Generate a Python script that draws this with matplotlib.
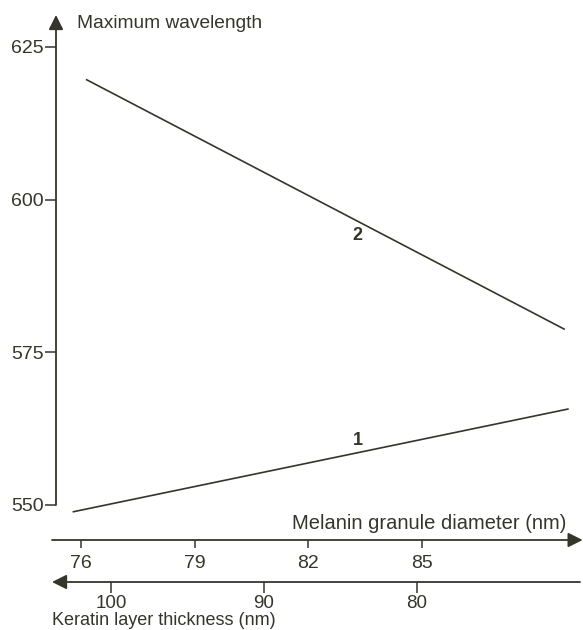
import matplotlib.pyplot as plt

plt.rcParams['font.family'] = ['Liberation Sans', 'DejaVu Sans']

ink = '#35352b'

# values
melanin_ticks = [76, 79, 82, 85]
keratin_ticks = [100, 90, 80]
wave_ticks = [550, 575, 600, 625]

line1_x = [75.8, 88.85]
line1_y = [548.9, 565.7]
line2_x = [76.15, 88.75]
line2_y = [619.6, 578.8]

W, H = 583, 630
fig = plt.figure(figsize=(W / 100, H / 100), dpi=100)
fig.patch.set_facecolor('white')


def box(x0, y0, x1, y1):
    # pixel box (top-left origin) -> figure fraction
    return [x0 / W, 1 - y1 / H, (x1 - x0) / W, (y1 - y0) / H]


# main plot
ax = fig.add_axes(box(56, 15, 580, 505))
ax.set_xlim(75.34, 89.17)
ax.set_ylim(550, 630.2)
for s in ['top', 'right', 'bottom', 'left']:
    ax.spines[s].set_visible(False)
ax.set_xticks([])
ax.set_yticks(wave_ticks)
ax.tick_params(axis='y', length=8, width=1.1, color=ink, labelcolor=ink,
               labelsize=14, pad=1)
ax.annotate('', xy=(0, 1.0), xytext=(0, 0), xycoords='axes fraction',
            arrowprops=dict(arrowstyle='-|>', color=ink, lw=1.3,
                            mutation_scale=22, shrinkA=0, shrinkB=0))
ax.text(0.04, 1.0, 'Maximum wavelength', transform=ax.transAxes,
        ha='left', va='top', fontsize=13.8, color=ink)

ax.plot(line1_x, line1_y, color=ink, lw=1.2, clip_on=False)
ax.plot(line2_x, line2_y, color=ink, lw=1.2, clip_on=False)
ax.text(83.3, 594.1, '2', ha='center', va='center', fontsize=13,
        fontweight='bold', color=ink)
ax.text(83.3, 560.5, '1', ha='center', va='center', fontsize=13,
        fontweight='bold', color=ink)

# melanin axis
axm = fig.add_axes(box(52, 520, 580, 540))
axm.patch.set_visible(False)
axm.set_xlim(75.235, 89.17)
axm.set_ylim(0, 1)
for s in ['top', 'right', 'left', 'bottom']:
    axm.spines[s].set_visible(False)
axm.set_yticks([])
axm.set_xticks(melanin_ticks)
axm.tick_params(axis='x', length=6, width=1.1, color=ink, labelcolor=ink,
                labelsize=14, pad=5)
axm.annotate('', xy=(1.005, 0), xytext=(0, 0), xycoords='axes fraction',
             arrowprops=dict(arrowstyle='-|>', color=ink, lw=1.3,
                             mutation_scale=22, shrinkA=0, shrinkB=0))
axm.text(0.975, 0.35, 'Melanin granule diameter (nm)', transform=axm.transAxes,
         ha='right', va='bottom', fontsize=14.5, color=ink)

# keratin axis
axk = fig.add_axes(box(52, 562, 580, 582))
axk.patch.set_visible(False)
axk.set_xlim(103.86, 69.35)
axk.set_ylim(0, 1)
for s in ['top', 'right', 'left', 'bottom']:
    axk.spines[s].set_visible(False)
axk.set_yticks([])
axk.set_xticks(keratin_ticks)
axk.tick_params(axis='x', length=8, width=1.1, color=ink, labelcolor=ink,
                labelsize=13.5, pad=1.5)
axk.annotate('', xy=(0, 0), xytext=(1, 0), xycoords='axes fraction',
             arrowprops=dict(arrowstyle='-|>', color=ink, lw=1.3,
                             mutation_scale=22, shrinkA=0, shrinkB=0))
fig.text(52 / W, 1 - 629 / H, 'Keratin layer thickness (nm)', ha='left',
         va='bottom', fontsize=13, color=ink)

fig.savefig('out.png', dpi=100, facecolor='white')
